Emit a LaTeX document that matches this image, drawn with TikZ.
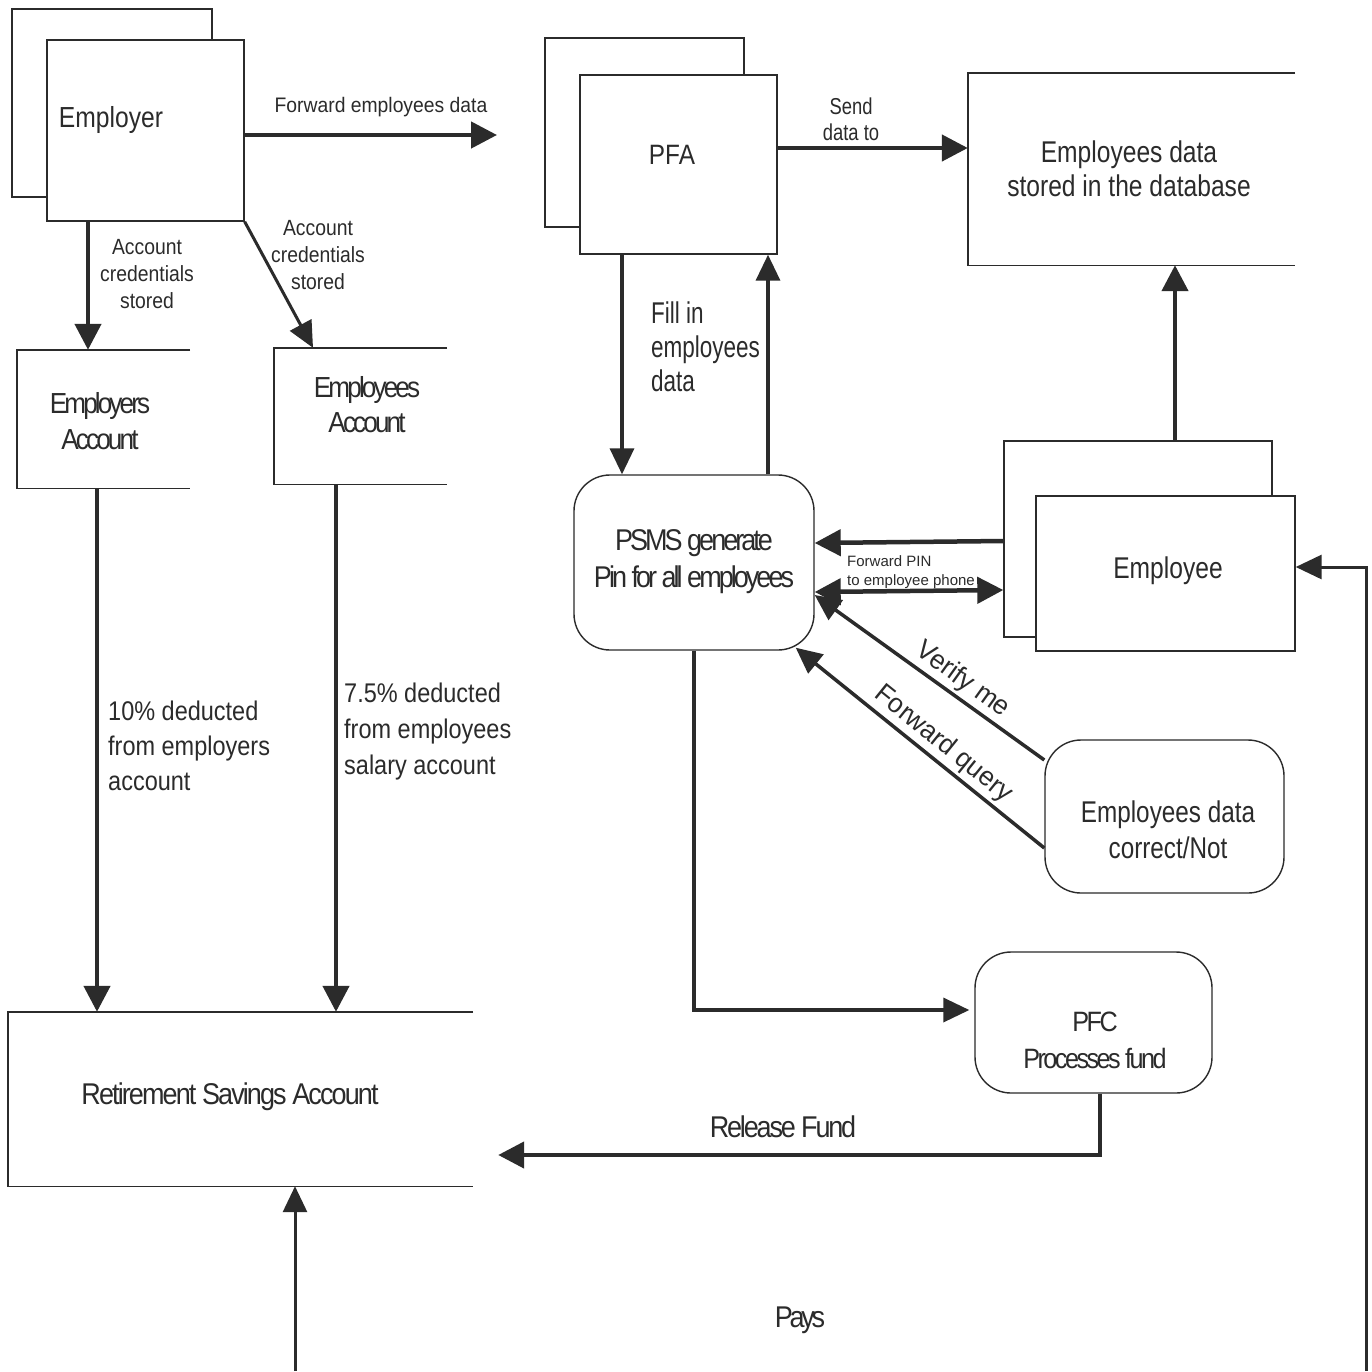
\documentclass[tikz,border=0pt]{standalone}
\usepackage{fontspec}
\setmainfont{Liberation Sans}
\usepackage{graphicx}
\usetikzlibrary{arrows.meta,calc}
\definecolor{ink}{RGB}{43,43,43}
\newcommand\sq[2]{\scalebox{#1}[1]{#2}}
\newcommand\fsz[2]{\fontsize{#1}{#2}\selectfont}
\newcommand\trk[1]{\addfontfeature{LetterSpace=#1}}
\begin{document}
\begin{tikzpicture}[x=1pt,y=-1pt,
  box/.style={draw=ink,line width=1.4pt,fill=white,rectangle,inner sep=0pt},
  openbox/.style={draw=none,rectangle,inner sep=0pt},
  rbox/.style={box,rounded corners=36pt},
  side/.style={draw=ink,line width=1.4pt},
  arr/.style={draw=ink,line width=4.5pt,-{Triangle[length=26pt,width=26pt]}},
  tarr/.style={draw=ink,line width=3pt,-{Triangle[length=26pt,width=24pt]}},
  marr/.style={draw=ink,line width=3.5pt,-{Triangle[length=26pt,width=24pt]}},
  dbl/.style={draw=ink,line width=4.5pt,{Triangle[length=26pt,width=26pt]}-{Triangle[length=26pt,width=26pt]}},
  lbl/.style={inner sep=0pt,text=ink,align=center},
  lbll/.style={inner sep=0pt,text=ink,align=left}
]
\useasboundingbox (0,0) rectangle (1372,1371);
\fill[white] (0,0) rectangle (1372,1371);

% boxes
\node[box,minimum width=200pt,minimum height=188pt] (empB) at (112,103) {};
\node[box,minimum width=197pt,minimum height=181pt] (emp) at (145.5,130.5) {};
\node[openbox,minimum width=173pt,minimum height=138pt] (ea) at (103.5,419) {};
\node[openbox,minimum width=173pt,minimum height=136pt] (eacc) at (360.5,416) {};
\node[box,minimum width=199pt,minimum height=189pt] (pfaB) at (644.5,132.5) {};
\node[box,minimum width=197pt,minimum height=179pt] (pfa) at (678.5,164.5) {};
\node[openbox,minimum width=327pt,minimum height=192pt] (db) at (1131.5,169) {};
\node[rbox,minimum width=240pt,minimum height=175pt] (psms) at (694,562.5) {};
\node[box,minimum width=268pt,minimum height=196pt] (empeB) at (1138,539) {};
\node[box,minimum width=259pt,minimum height=155pt] (empe) at (1165.5,573.5) {};
\node[rbox,minimum width=239pt,minimum height=153pt] (cor) at (1164.5,816.5) {};
\node[rbox,minimum width=237pt,minimum height=141pt] (pfc) at (1093.5,1022.5) {};
\node[openbox,minimum width=465pt,minimum height=174pt] (rsa) at (240.5,1099) {};

\foreach \b in {ea,eacc,db,rsa}
  \draw[side] (\b.north east) -- (\b.north west) -- (\b.south west) -- (\b.south east);

% connectors
\coordinate (fwdEnd) at (497,135);
\draw[arr] (emp.east |- fwdEnd) -- (fwdEnd);
\draw[arr] (pfa.east |- 0,148) -- (db.west |- 0,148);
\draw[arr] (88,0 |- emp.south) -- (88,0 |- ea.north);
\draw[tarr] (emp.south east) -- (313,0 |- eacc.north);
\draw[arr] (97,0 |- ea.south) -- (97,0 |- rsa.north);
\draw[arr] (336,0 |- eacc.south) -- (336,0 |- rsa.north);
\draw[marr] (622,0 |- pfa.south) -- (622,0 |- psms.north);
\draw[marr] (768,0 |- psms.north) -- (768,0 |- pfa.south);
\draw[arr] (1175,0 |- empeB.north) -- (1175,0 |- db.south);
\draw[arr] (empeB.west |- 0,541) -- (psms.east |- 0,543);
\draw[dbl] (psms.east |- 0,592) -- (empeB.west |- 0,590);
\draw[marr] (cor.west |- 0,760) -- node[sloped,above=3pt,pos=.4,lbl,font=\fsz{27}{32}]{\sq{.97}{Verify me}} (psms.east |- 0,595);
\coordinate (qEnd) at ($(psms.south east)+(-19,-3)$);
\draw[marr] (cor.west |- 0,848) -- node[sloped,above=3pt,pos=.45,lbl,font=\fsz{27}{32}]{\sq{.97}{Forward query}} (qEnd);
\draw[marr] (psms.south) |- ($(pfc.west |- 0,1010)+(-5,0)$);
\draw[arr] (1100,0 |- pfc.south) |- ($(rsa.east |- 0,1155)+(25,0)$);
\coordinate (botStart) at (295,1371);
\draw[tarr] (botStart) -- (295,0 |- rsa.south);
\coordinate (rStart) at (1366,1371);
\draw[tarr] (rStart) |- (empe.east |- 0,567);

% labels
\node[lbl,font=\fsz{29}{34}] (tEmployer) at (111,120) {\sq{.85}{Employer}};
\node[lbl,font=\fsz{21}{25}] (tFwd) at (381,107) {\sq{.92}{Forward employees data}};
\node[lbl,font=\fsz{22}{27}] (tAcc1) at (147,274) {\sq{.88}{Account}\\\sq{.88}{credentials}\\\sq{.88}{stored}};
\node[lbl,font=\fsz{22}{27}] (tAcc2) at (318,255) {\sq{.88}{Account}\\\sq{.88}{credentials}\\\sq{.88}{stored}};
\node[lbl,font={\fsz{29}{36}\trk{-11}}] (tEA) at (100,421) {\sq{.9}{Employers}\\\sq{.9}{Account}};
\node[lbl,font={\fsz{29}{35}\trk{-11}}] (tEacc) at (367,405) {\sq{.9}{Employees}\\\sq{.9}{Account}};
\node[lbl,font=\fsz{28}{34}] (tPFA) at (672,155) {\sq{.87}{PFA}};
\node[lbl,font=\fsz{23}{26}] (tSend) at (851,119) {\sq{.8}{Send}\\\sq{.8}{data to}};
\node[lbl,font=\fsz{30}{34}] (tDB) at (1129,169) {\sq{.82}{Employees data}\\\sq{.82}{stored in the database}};
\node[lbll,anchor=west,font=\fsz{30}{34}] (tFill) at (651,347) {\sq{.75}{Fill in}\\\sq{.75}{employees}\\\sq{.75}{data}};
\node[lbl,font={\fsz{30}{37}\trk{-11}}] (tPSMS) at (694,562) {\sq{.9}{PSMS generate}\\\sq{.9}{Pin for all employees}};
\node[lbl,font=\fsz{30}{34}] (tEmpe) at (1168,571) {\sq{.82}{Employee}};
\node[lbll,anchor=west,font=\fsz{15}{19}] (tPIN) at (847,572) {Forward PIN\\to employee phone};
\node[lbl,font=\fsz{30}{36}] (tCor) at (1168,830) {\sq{.81}{Employees data}\\\sq{.81}{correct/Not}};
\node[lbl,font={\fsz{28}{37}\trk{-10}}] (tPFC) at (1095,1040) {\sq{.9}{PFC}\\\sq{.9}{Processes fund}};
\node[lbl,font={\fsz{30}{34}\trk{-8}}] (tRel) at (783,1127) {\sq{.9}{Release Fund}};
\node[lbl,font={\fsz{30}{34}\trk{-7}}] (tRSA) at (230,1097) {\sq{.9}{Retirement Savings Account}};
\node[lbll,anchor=west,font=\fsz{27}{35}] (t10) at (108,746) {\sq{.87}{10\% deducted}\\\sq{.87}{from employers}\\\sq{.87}{account}};
\node[lbll,anchor=west,font=\fsz{27}{36}] (t75) at (344,732) {\sq{.87}{7.5\% deducted}\\\sq{.87}{from employees}\\\sq{.87}{salary account}};
\node[lbl,font={\fsz{30}{34}\trk{-12}}] (tPays) at (800,1320) {\sq{.9}{Pays}};
\end{tikzpicture}
\end{document}
